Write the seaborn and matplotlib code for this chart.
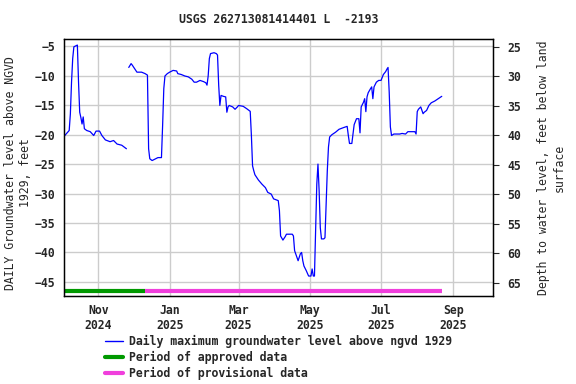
import seaborn as sns
import matplotlib.pyplot as plt
import matplotlib.dates as mdates
from matplotlib.lines import Line2D
import pandas as pd

# daily max groundwater level (two segments with a gap)
dates1 = ["2024-10-03", "2024-10-07", "2024-10-08", "2024-10-09", "2024-10-10", "2024-10-11",
          "2024-10-14", "2024-10-15", "2024-10-16", "2024-10-17", "2024-10-18", "2024-10-19",
          "2024-10-20", "2024-10-22", "2024-10-25", "2024-10-28", "2024-10-30", "2024-11-02",
          "2024-11-04", "2024-11-07", "2024-11-11", "2024-11-14", "2024-11-17", "2024-11-21",
          "2024-11-25"]
levels1 = [-20.2, -19.3, -16.5, -11.1, -7.1, -5.1, -4.8, -11.1, -16.2, -17.1, -18.2, -17.0,
           -19.0, -19.3, -19.5, -20.15, -19.4, -19.4, -20.15, -20.9, -21.2, -21.0, -21.6, -21.8,
           -22.4]

dates2 = ["2024-11-27", "2024-11-29", "2024-11-30", "2024-12-02", "2024-12-04", "2024-12-08",
          "2024-12-11", "2024-12-13", "2024-12-14", "2024-12-15", "2024-12-17", "2024-12-20",
          "2024-12-22", "2024-12-25", "2024-12-26", "2024-12-27", "2024-12-28", "2024-12-30",
          "2025-01-01", "2025-01-04", "2025-01-07", "2025-01-08", "2025-01-11", "2025-01-14",
          "2025-01-17", "2025-01-20", "2025-01-22", "2025-01-24", "2025-01-27", "2025-01-30",
          "2025-02-01", "2025-02-02", "2025-02-03", "2025-02-04", "2025-02-05", "2025-02-08",
          "2025-02-10", "2025-02-11", "2025-02-12", "2025-02-13", "2025-02-14", "2025-02-16",
          "2025-02-18", "2025-02-19", "2025-02-20", "2025-02-21", "2025-02-24", "2025-02-26",
          "2025-02-28", "2025-03-01", "2025-03-05", "2025-03-08", "2025-03-11", "2025-03-12",
          "2025-03-13", "2025-03-14", "2025-03-15", "2025-03-18", "2025-03-21", "2025-03-24",
          "2025-03-26", "2025-03-29", "2025-03-31", "2025-04-04", "2025-04-05", "2025-04-06",
          "2025-04-08", "2025-04-10", "2025-04-11", "2025-04-16", "2025-04-17", "2025-04-18",
          "2025-04-20", "2025-04-21", "2025-04-23", "2025-04-24", "2025-04-25", "2025-04-26",
          "2025-04-28", "2025-04-30", "2025-05-02", "2025-05-03", "2025-05-04", "2025-05-05",
          "2025-05-06", "2025-05-07", "2025-05-08", "2025-05-09", "2025-05-10", "2025-05-11",
          "2025-05-13", "2025-05-14", "2025-05-15", "2025-05-16", "2025-05-17", "2025-05-18",
          "2025-05-20", "2025-05-23", "2025-05-26", "2025-05-30", "2025-06-02", "2025-06-03",
          "2025-06-04", "2025-06-06", "2025-06-07", "2025-06-08", "2025-06-10", "2025-06-12",
          "2025-06-13", "2025-06-14", "2025-06-16", "2025-06-17", "2025-06-18", "2025-06-19",
          "2025-06-20", "2025-06-22", "2025-06-23", "2025-06-24", "2025-06-25", "2025-06-27",
          "2025-06-29", "2025-07-01", "2025-07-03", "2025-07-05", "2025-07-06", "2025-07-07",
          "2025-07-08", "2025-07-09", "2025-07-10", "2025-07-12", "2025-07-14", "2025-07-17",
          "2025-07-19", "2025-07-22", "2025-07-24", "2025-07-27", "2025-07-30", "2025-07-31",
          "2025-08-01", "2025-08-02", "2025-08-04", "2025-08-06", "2025-08-07", "2025-08-09",
          "2025-08-11", "2025-08-13", "2025-08-16", "2025-08-19", "2025-08-22"]
levels2 = [-8.6, -7.95, -8.2, -8.8, -9.4, -9.4,
           -9.65, -9.9, -22.4, -24.1, -24.4, -24.1,
           -23.9, -23.9, -18.4, -12.2, -10.05, -9.65,
           -9.4, -9.1, -9.2, -9.65, -9.8, -10.05,
           -10.2, -10.6, -11.1, -11.1, -10.8, -11.0,
           -11.2, -11.6, -10.05, -7.1, -6.25, -6.1,
           -6.25, -6.5, -11.6, -15.05, -13.35, -13.5,
           -13.6, -16.2, -15.3, -15.05, -15.3, -15.7,
           -15.3, -15.05, -15.2, -15.6, -16.05, -20.15,
           -25.3, -26.1, -26.8, -27.7, -28.4, -29.0,
           -29.8, -30.1, -30.9, -31.2, -32.9, -37.2,
           -37.9, -37.3, -36.9, -36.9, -37.2, -39.7,
           -40.8, -41.4, -40.2, -40.0, -41.4, -42.3,
           -43.1, -44.0, -44.0, -42.8, -44.0, -44.0,
           -36.3, -28.4, -25.0, -29.5, -35.8, -37.7,
           -37.7, -37.5, -31.8, -26.1, -22.1, -20.4,
           -20.0, -19.6, -19.1, -18.8, -18.6, -20.15,
           -21.5, -21.5, -19.9, -18.3, -17.3, -17.3,
           -19.7, -15.3, -14.5, -13.9, -16.1, -13.6,
           -12.9, -12.2, -11.9, -13.9, -11.9, -11.1,
           -10.8, -10.8, -9.8, -9.3, -8.9, -8.6,
           -12.8, -18.7, -20.15, -19.9, -19.9, -19.9,
           -19.8, -19.9, -19.5, -19.5, -19.5, -19.9,
           -16.1, -15.7, -15.3, -16.45, -16.2, -15.9,
           -15.05, -14.6, -14.3, -13.9, -13.5]

approved_period = ["2024-10-03", "2024-12-11"]
provisional_period = ["2024-12-11", "2025-08-22"]

land_surface = 19.9  # depth = land_surface - level

df = pd.concat([
    pd.DataFrame({"date": pd.to_datetime(dates1), "level": levels1, "seg": 1}),
    pd.DataFrame({"date": pd.to_datetime(dates2), "level": levels2, "seg": 2}),
])

sns.set_style("white")
plt.rcParams["font.family"] = ["DejaVu Sans Mono"]
plt.rcParams["font.weight"] = "bold"
fs = 8.3

fig = plt.figure(figsize=(5.76, 3.84), dpi=100)
ax = fig.add_axes([0.111, 0.229, 0.745, 0.669])

sns.lineplot(data=df, x="date", y="level", units="seg", estimator=None,
             color="#0000ff", linewidth=0.9, ax=ax, legend=False)

bar_y = -46.6
ax.plot(pd.to_datetime(approved_period), [bar_y, bar_y], color="#009900", linewidth=3,
        solid_capstyle="butt", clip_on=False)
ax.plot(pd.to_datetime(provisional_period), [bar_y, bar_y], color="#f03fdc", linewidth=3,
        solid_capstyle="butt")

ax.set_xlim(pd.Timestamp("2024-10-02 12:00"), pd.Timestamp("2025-10-04 22:00"))
ylo, yhi = -47.4, -3.8
ax.set_ylim(ylo, yhi)
ax.set_yticks(range(-45, 0, 5))
ax.xaxis.set_major_locator(mdates.MonthLocator(bymonth=[1, 3, 5, 7, 9, 11]))
ax.xaxis.set_major_formatter(mdates.DateFormatter("%b\n%Y"))
ax.grid(True, color="#cccccc", linewidth=1)
ax.tick_params(axis="both", length=0, labelsize=fs, pad=6)
for s in ax.spines.values():
    s.set_color("black")
    s.set_linewidth(1)
ax.set_xlabel("")
ax.set_ylabel("DAILY Groundwater level above NGVD\n1929, feet", fontsize=fs, labelpad=2)
ax.yaxis.label.set_y(0.48)
ax.set_title("USGS 262713081414401 L  -2193", fontsize=fs, fontweight="bold", pad=12)

ax2 = ax.twinx()
ax2.set_ylim(land_surface - ylo, land_surface - yhi)
ax2.set_yticks(range(25, 70, 5))
ax2.tick_params(axis="y", length=4, labelsize=fs, pad=6)
ax2.set_ylabel("Depth to water level, feet below land\nsurface", fontsize=fs, labelpad=12)
for s in ax2.spines.values():
    s.set_color("black")

handles = [Line2D([], [], color="#0000ff", linewidth=1),
           Line2D([], [], color="#009900", linewidth=3),
           Line2D([], [], color="#f03fdc", linewidth=3)]
labels = ["Daily maximum groundwater level above ngvd 1929",
          "Period of approved data",
          "Period of provisional data"]
fig.legend(handles, labels, loc="upper left", bbox_to_anchor=(0.1745, 0.1398),
           frameon=False, fontsize=fs, handlelength=1.55, labelspacing=0.25,
           handletextpad=0.5, borderaxespad=0)

fig.savefig("out.png", dpi=100)
